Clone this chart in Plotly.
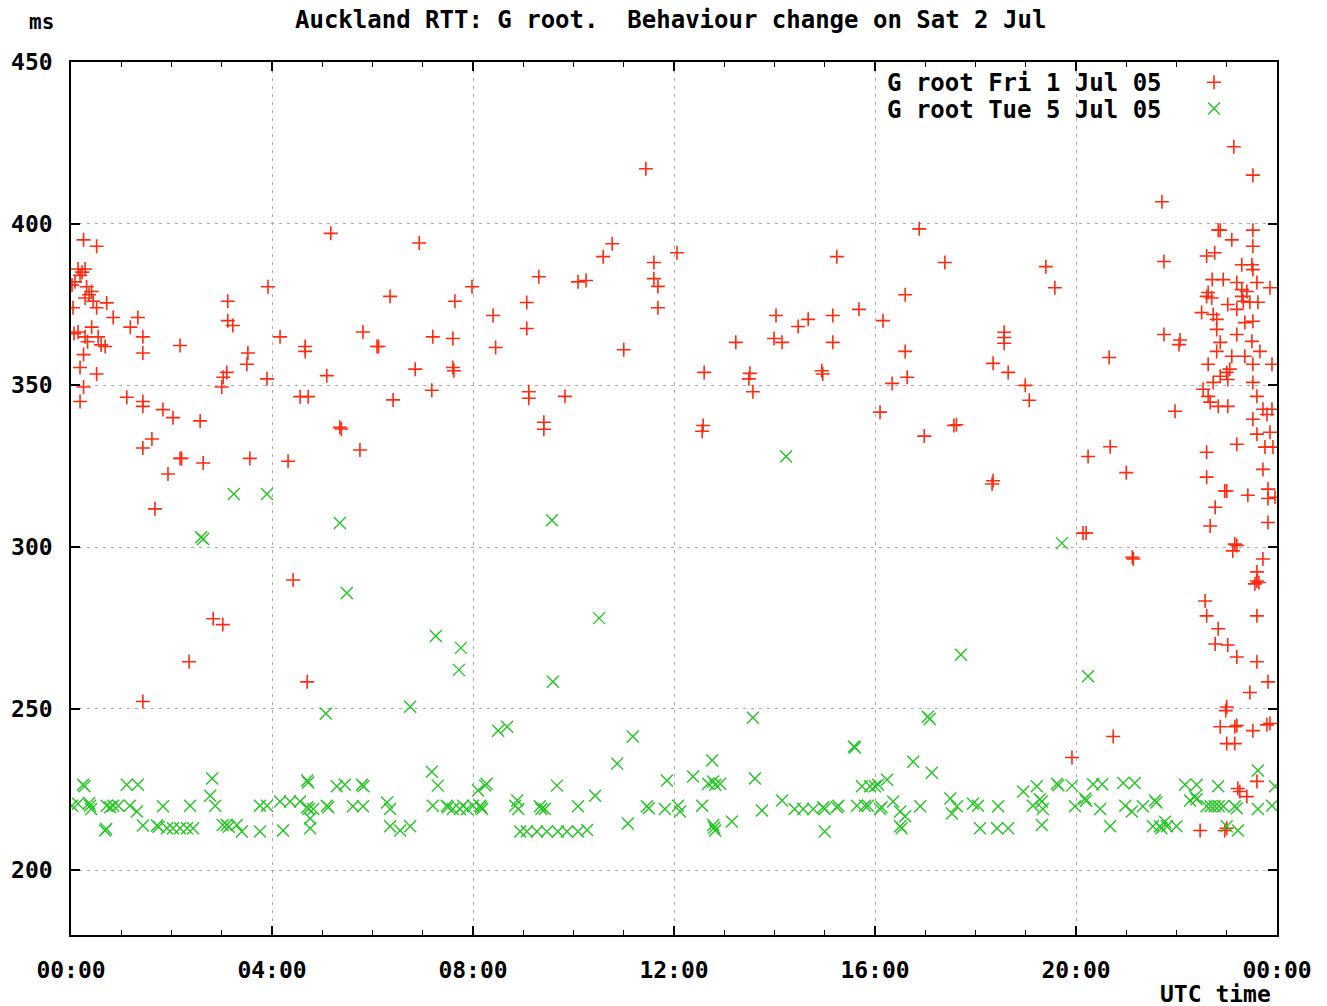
import plotly.graph_objects as go

# ---- data: hours (UTC) and RTT in ms ----
fri_hours = [0.25,0.51,0.28,0.18,0.08,0.31,0.41,0.28,0.44,0.71,0.51,0.04,0.14,0.22,0.84,1.33,1.18,1.43,1.43,0.14,0.28,0.41,0.54,0.68,0.25,0.18,0.51,0.25,0.18,0.02,0.06,0.33,0.6,0.36,
             2.17,3.12,3.12,3.22,3.52,3.5,3.1,3.03,3.0,3.92,3.9,4.16,4.66,4.66,5.09,5.17,5.81,6.09,6.12,6.35,6.93,6.85,7.2,7.6,7.6,7.62,7.98,7.64,7.18,6.41,4.56,4.72,5.35,5.38,5.75,4.32,3.56,2.63,2.17,2.2,1.93,1.67,1.43,1.61,1.11,1.43,1.43,1.83,2.03,2.57,1.43,2.35,2.83,3.02,4.42,4.7,
             11.44,8.40,8.45,9.07,9.07,9.31,10.09,10.25,10.59,10.77,11.6,11.6,11.68,11.68,12.06,11.0,9.11,9.11,9.83,9.41,9.41,12.6,12.58,12.56,13.23,13.51,13.49,13.57,14.03,13.99,14.15,14.47,14.67,15.16,15.16,14.94,14.96,15.24,15.68,16.16,16.34,16.1,
             16.88,17.39,16.6,16.6,16.64,16.98,17.57,17.62,18.35,18.33,18.57,18.57,18.57,18.35,18.65,18.99,19.07,19.4,19.58,20.14,20.2,20.24,20.68,21.0,20.66,21.71,21.75,21.75,22.07,22.05,21.97,23.52,23.14,
             22.83,22.87,23.1,23.52,23.52,22.6,22.76,23.3,23.5,23.52,23.6,23.86,22.71,22.93,22.63,23.2,23.3,23.4,22.6,22.7,23.3,23.33,23.46,23.62,23.02,23.2,22.5,22.73,22.8,23.36,23.52,22.8,23.2,23.5,22.87,22.8,23.66,23.1,23.36,23.52,23.9,22.63,23.06,23.0,22.87,23.02,23.52,22.73,22.53,22.63,22.67,22.83,23.02,23.6,23.72,23.9,23.52,23.8,23.6,23.86,23.76,23.92,23.2,22.6,23.72,22.6,22.96,23.0,23.42,23.82,23.82,23.96,22.77,22.67,23.82,23.16,23.2,
             23.12,23.72,23.6,23.6,23.56,23.64,22.57,22.6,22.83,22.77,23.02,23.2,23.6,23.6,23.82,23.46,22.98,23.0,22.87,23.16,23.52,23.86,23.0,23.16,23.26,23.22,23.4,23.6,22.47,22.96,23.0,
             21.14,21.12,19.92,20.74,23.2,23.8]
fri_ms = [395,393,386,384,382,380.5,379,377,376,375.5,374,374,386,385,371,371,368,365,360,366.5,365,368,365,362,359.5,355.5,353.5,349.5,345,381,366,363.5,362.5,378,
          362.3,376,370,368.5,360,356.5,354,352.5,349.5,380.5,352,365,362,360.5,353,397,366.5,362,362,377.5,394,355,365,364.5,355.5,354.5,380.5,376,348.5,345.5,346.5,346.5,337,336.5,330,326.5,327.4,326,327.4,327.4,322.6,311.8,330.6,333.4,346.3,345,343.5,342.5,340,339,252.2,264.5,277.8,276,289.8,258.3,
          417,371.6,361.7,375.6,367.6,383.6,382,382.4,389.8,393.8,388,383,380.6,374,391,361,348,346,346.6,338.6,336.4,354,337.6,335.8,363.3,353.7,352,348,371.6,364.5,363.3,368.2,370.4,371.6,363.3,354.5,353.5,389.8,373.5,370,350.6,341.7,
          398.4,388,378,360.5,352.5,334.3,337.6,337.8,320.5,319.5,366.4,364.8,363,356.8,354,350,345.4,386.7,380.2,304.3,304.3,328,331,323,358.6,406.8,388.3,365.7,364,362.6,342,415,423.8,
          398,398,395,398,393,390,391,387.3,387.3,385.8,381.8,380.2,382.7,382.7,378.7,381.8,379.6,379,377.5,377,377.5,376,375.7,375.7,375,373.5,372.5,371.9,370.4,369.4,369.8,367.3,365.7,363.6,363.3,360.5,360.5,359,359,356.5,356.5,356.5,355,354,352.8,351.8,350.9,350.9,348.8,346.6,344.8,343.5,343.5,346.6,342.6,342.6,339.5,341,334.9,335.5,330.9,330.9,331.8,329.3,324,321.6,317.3,317.3,316,317.9,315,315.4,312.3,306.5,307.6,300.9,300.5,
          298.8,296.3,292.3,289.5,288.6,289,283.3,278.7,274.7,270,269.7,266,278.7,264.5,258.3,255,249.4,250.5,244.4,244.4,243.2,245.4,239.2,239.2,224.4,225.3,222.8,227.5,212.3,212.3,213,
          296.3,296.8,234.9,241.4,244.8,245]

tue_hours = [2.59,2.63,3.24,3.9,5.35,5.49,7.26,7.76,7.72,5.07,6.75,9.59,9.57,10.51,14.23,19.72,20.24,17.71,17.05,17.09,15.58,15.6,13.57,11.18,10.87,8.5,8.68,7.18,16.76,17.13,12.76,23.62,12.38,13.61,2.81,4.7,4.72,
             0.24,0.27,0.38,0.4,0.36,0.14,0.02,0.71,0.78,0.84,0.94,0.68,0.7,1.11,1.33,1.17,1.31,1.43,1.71,1.74,1.83,1.91,2.03,2.17,2.31,2.43,2.37,2.77,2.87,3.02,3.1,3.14,3.3,3.4,3.76,3.76,3.9,4.22,4.16,4.36,4.56,4.7,4.73,4.82,4.76,4.76,5.09,5.12,5.29,5.45,5.79,5.82,5.61,5.81,6.29,6.35,6.35,6.55,6.75,7.3,7.2,7.48,7.5,7.6,7.8,8.0,8.1,
             8.24,8.27,8.14,8.16,8.18,7.74,7.88,8.88,8.84,8.9,8.94,9.07,9.27,9.47,9.69,9.87,10.09,10.27,9.33,9.36,9.43,9.67,10.09,10.43,11.08,11.46,11.5,11.86,11.82,12.08,12.12,12.56,12.78,12.82,12.92,12.68,12.78,12.82,12.8,13.15,13.75,14.15,14.4,14.57,14.77,14.97,15.0,15.24,15.27,15.0,15.64,15.8,15.74,15.9,16.0,
             16.06,16.24,15.86,16.1,16.13,16.36,16.5,16.5,16.53,16.6,16.9,17.5,17.63,17.53,17.95,18.05,18.09,18.43,18.65,18.45,18.95,19.22,19.32,19.28,19.14,19.34,19.32,19.62,19.65,19.92,19.98,20.18,20.2,20.34,20.52,20.48,20.68,20.94,21.17,20.98,21.11,21.33,21.53,21.67,21.7,21.81,22.0,21.57,21.6,22.17,22.4,22.27,22.37,22.4,22.6,22.68,22.76,22.84,22.93,22.83,23.16,23.2,23.0,23.22,23.62,23.9,23.96,21.77]
tue_ms = [303,302.5,316.4,316.4,307.4,285.8,272.5,268.8,262,248.5,250.6,258.3,308.3,278,328,301.2,260,266.7,247.5,246.8,238.3,238,247.2,241.4,233,243.2,244.4,230.5,233.6,230.2,234,230.9,229,228.4,228.4,227.8,227.2,
          226.5,226,220,219,220.8,220.6,220,220,219.5,220,220,212.3,212.8,226.5,226.5,220,218.2,213.9,213.9,213.5,219.8,213,213,213,213,213,220,223.1,220,214,214,213.5,214,212,212,220,220,212.3,221.3,221.3,221.3,219.5,219,219,216,213,220,219.5,226,226.5,226.5,226,219.8,219.8,221,219,213.6,212.3,213.6,226.2,220,220,219.5,219,220,220,224.7,
          226.2,226.8,220,219.5,219,219,219,221.6,220,219,212,212,212,212,212,212,212,212.5,219.8,219,219,226.2,219.8,223.1,214.5,219.8,219.2,227.8,219,220,218.2,220,227.5,226.5,226.8,226.8,214,212.3,213.2,215.1,218.5,221.6,219,219,219,219.5,219,219.5,220,212,220,220,226,226,226,
          226.5,228,220,219,219.5,221.3,218.2,213.6,213,216.7,219.8,222.2,219.8,217.6,220.6,220,213,213,213,219.8,224.4,226,221.3,222,220,219,214,226.8,226.3,226.2,219.8,222.2,221.5,226.6,226.6,219,213.6,227,227,220,218.2,219.8,213.6,213.6,213,213.6,213.6,221.6,221,226.5,226.5,221.6,222.8,222,219.8,219.8,219.8,219.8,219.8,226,219.8,219.2,213.6,212.3,219,220,226,215]

tick_hours = [0, 4, 8, 12, 16, 20, 24]
tick_labels = ["00:00", "04:00", "08:00", "12:00", "16:00", "20:00", "00:00"]
y_ticks = [200, 250, 300, 350, 400, 450]
series_names = ["G root Fri 1 Jul 05", "G root Tue 5 Jul 05"]

RED = "#ff2a10"
GREEN = "#22c522"
FONT = "DejaVu Sans Mono"

fig = go.Figure()
fig.add_trace(go.Scatter(
    x=fri_hours, y=fri_ms, mode="markers", name="", showlegend=True,
    hovertext=series_names[0],
    marker=dict(symbol="cross-thin", size=10, color=RED,
                line=dict(color=RED, width=1.6)),
))
fig.add_trace(go.Scatter(
    x=tue_hours, y=tue_ms, mode="markers", name="", showlegend=True,
    hovertext=series_names[1],
    marker=dict(symbol="x-thin", size=12, color=GREEN,
                line=dict(color=GREEN, width=1.4)),
))

W, H = 1327, 1006
L, R, T, B = 71, 50, 62, 71
PW, PH = W - L - R, H - T - B

axis_common = dict(
    showline=True, linecolor="#000", linewidth=1.5, mirror="ticks",
    ticks="inside", ticklen=9, tickwidth=1.5, tickcolor="#000",
    showgrid=True, gridcolor="#a8a8a8", gridwidth=1.2, griddash="3px,5px",
    zeroline=False,
    tickfont=dict(family=FONT, size=23, color="#000", weight="bold"),
)

fig.update_layout(
    width=W, height=H,
    margin=dict(l=L, r=R, t=T, b=B, pad=0),
    plot_bgcolor="white", paper_bgcolor="white",
    font=dict(family=FONT, size=23, color="#000", weight="bold"),
    xaxis=dict(range=[0, 24], tickvals=tick_hours, ticktext=tick_labels,
               ticklabelstandoff=14,
               minor=dict(dtick=1, ticks="inside", ticklen=5, tickwidth=1.2,
                          tickcolor="#000", showgrid=False),
               **axis_common),
    yaxis=dict(range=[180, 450], tickvals=y_ticks, ticklabelstandoff=12,
               **axis_common),
    legend=dict(x=(1194 - L) / PW, y=1 - (64 - T) / PH,
                xanchor="left", yanchor="top", bgcolor="rgba(0,0,0,0)",
                font=dict(size=18), itemwidth=30, tracegroupgap=0),
    showlegend=True,
    annotations=[
        dict(text="Auckland RTT: G root.  Behaviour change on Sat 2 Jul",
             xref="paper", yref="paper", x=(670 - L) / PW,
             y=1 + (T - 20) / PH, xanchor="center", yanchor="middle",
             showarrow=False, font=dict(family=FONT, size=24, weight="bold")),
        dict(text="ms", xref="paper", yref="paper", x=(41 - L) / PW,
             y=1 + (T - 22) / PH, xanchor="center", yanchor="middle",
             showarrow=False, font=dict(family=FONT, size=21, weight="bold")),
        dict(text="UTC time", xref="paper", yref="paper", x=(1273 - L) / PW,
             y=-(994 - (H - B)) / PH, xanchor="right", yanchor="middle",
             showarrow=False, font=dict(family=FONT, size=23, weight="bold")),
        dict(text=series_names[0], xref="paper", yref="paper",
             x=(1164 - L) / PW, y=1 - (83 - T) / PH,
             xanchor="right", yanchor="middle", showarrow=False,
             font=dict(family=FONT, size=24, weight="bold")),
        dict(text=series_names[1], xref="paper", yref="paper",
             x=(1164 - L) / PW, y=1 - (110 - T) / PH,
             xanchor="right", yanchor="middle", showarrow=False,
             font=dict(family=FONT, size=24, weight="bold")),
    ],
)

fig.write_html("out.html", config={"displayModeBar": False},
               post_script="document.body.style.margin='0';document.body.style.overflow='hidden';")
